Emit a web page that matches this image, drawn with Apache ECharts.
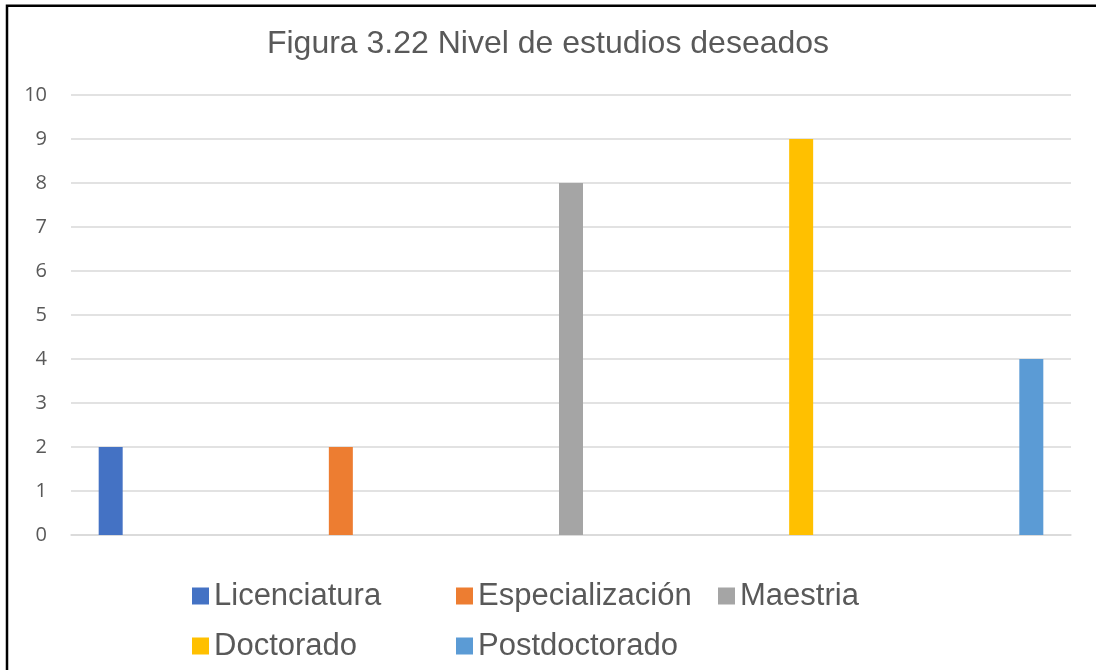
<!DOCTYPE html>
<html>
<head>
<meta charset="utf-8">
<title>Nivel de estudios deseados</title>
<script src="https://cdn.jsdelivr.net/npm/echarts@6/dist/echarts.min.js"></script>
<style>
	html, body { margin: 0; padding: 0; background: #fff; }
	#chart { width: 1096px; height: 670px; }
</style>
</head>
<body>
<div id="chart"></div>
<script>
// 数据
var categories = ['Licenciatura', 'Especialización', 'Maestria', 'Doctorado', 'Postdoctorado'];
var values = [2, 2, 8, 9, 4];
var colors = ['#4472C4', '#ED7D31', '#A5A5A5', '#FFC000', '#5B9BD5'];
var yTicks = [0, 10, 1]; // min, max, interval

// 图例位置 (Excel 风格两行排列)
var legendPos = [
	{ left: 187, top: 574 },
	{ left: 451, top: 574 },
	{ left: 713, top: 574 },
	{ left: 187, top: 624 },
	{ left: 451, top: 624 }
];

render();

function render() {
	var myChart = echarts.init(document.getElementById('chart'));

	var textColor = '#595959';
	var gridColor = '#d9d9d9';

	var series = [];
	var legends = [];
	for (var i = 0; i < categories.length; ++i) {
		series.push({
			name: categories[i],
			type: 'bar',
			data: [values[i]],
			barWidth: 24,
			barGap: '859%',
			itemStyle: { color: colors[i] }
		});
		legends.push({
			data: [categories[i]],
			left: legendPos[i].left,
			top: legendPos[i].top,
			icon: 'rect',
			itemWidth: 17,
			itemHeight: 17,
			selectedMode: false,
			textStyle: {
				color: textColor,
				fontSize: 31,
				lineHeight: 34,
				fontFamily: 'Liberation Sans, Arial, sans-serif'
			}
		});
	}

	var option = {
		animation: false,
		backgroundColor: '#fff',
		title: {
			text: 'Figura 3.22 Nivel de estudios deseados',
			left: 'center',
			top: 23,
			textStyle: {
				color: textColor,
				fontSize: 32,
				fontWeight: 'normal',
				fontFamily: 'Liberation Sans, Arial, sans-serif'
			}
		},
		legend: legends,
		grid: {
			left: 71,
			right: 25,
			top: 95,
			bottom: 135
		},
		xAxis: {
			type: 'category',
			data: [''],
			axisLine: { lineStyle: { color: gridColor, width: 1.5 } },
			axisTick: { show: false },
			axisLabel: { show: false }
		},
		yAxis: {
			type: 'value',
			min: yTicks[0],
			max: yTicks[1],
			interval: yTicks[2],
			axisLine: { show: false },
			axisTick: { show: false },
			axisLabel: {
				color: textColor,
				fontSize: 20,
				margin: 24,
				fontFamily: 'Open Sans, Liberation Sans, sans-serif'
			},
			splitLine: { lineStyle: { color: gridColor, width: 1.5 } }
		},
		series: series,
		// 外框 (只有左边和上边)
		graphic: [{
			type: 'polyline',
			shape: { points: [[7, 700], [7, 5.8], [1200, 5.8]] },
			style: { fill: null, stroke: '#000', lineWidth: 2.5 },
			silent: true
		}]
	};

	myChart.setOption(option);
}
</script>
</body>
</html>
